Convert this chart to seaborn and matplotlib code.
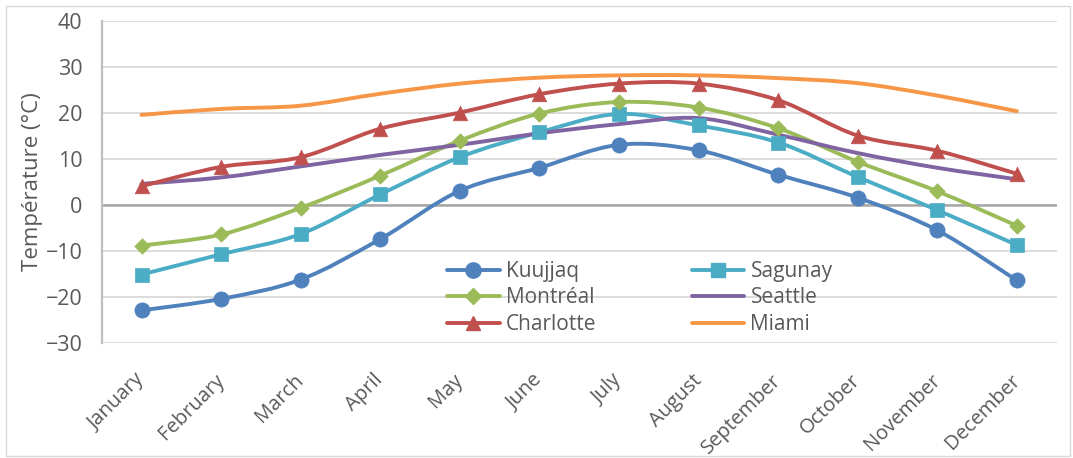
import numpy as np
import pandas as pd
import matplotlib
matplotlib.use("Agg")
import matplotlib.pyplot as plt
import seaborn as sns
from matplotlib.path import Path
from matplotlib.patches import PathPatch, Rectangle
from matplotlib.lines import Line2D

months = ["January", "February", "March", "April", "May", "June", "July",
          "August", "September", "October", "November", "December"]
kuujjaq = [-23.0, -20.5, -16.3, -7.5, 3.0, 8.0, 13.0, 11.8, 6.5, 1.5, -5.6, -16.5]
sagunay = [-15.2, -10.8, -6.4, 2.2, 10.3, 15.7, 19.7, 17.2, 13.5, 6.0, -1.2, -8.8]
montreal = [-8.9, -6.5, -0.7, 6.3, 13.9, 19.8, 22.3, 21.1, 16.6, 9.3, 2.9, -4.6]
seattle = [4.5, 5.9, 8.3, 10.8, 13.0, 15.5, 17.5, 18.8, 15.2, 11.2, 8.0, 5.5]
charlotte = [4.0, 8.2, 10.3, 16.5, 20.0, 24.0, 26.3, 26.3, 22.7, 15.0, 11.7, 6.7]
miami = [19.5, 20.8, 21.5, 24.1, 26.3, 27.6, 28.1, 28.1, 27.5, 26.4, 23.7, 20.3]

cities = ["Kuujjaq", "Sagunay", "Montréal", "Seattle", "Charlotte", "Miami"]
series = [kuujjaq, sagunay, montreal, seattle, charlotte, miami]
colors = {"Kuujjaq": "#4F81BD", "Sagunay": "#4BACC6", "Montréal": "#9BBB59",
          "Seattle": "#8064A2", "Charlotte": "#C0504D", "Miami": "#F79646"}
markers = {"Kuujjaq": "o", "Sagunay": "s", "Montréal": "D", "Seattle": None,
           "Charlotte": "^", "Miami": None}
msizes = {"Kuujjaq": 120, "Sagunay": 105, "Montréal": 62, "Charlotte": 110}

rows = []
for c, vals in zip(cities, series):
    for i, (m, v) in enumerate(zip(months, vals)):
        rows.append({"city": c, "idx": i, "month": m, "temp": v})
df = pd.DataFrame(rows)

sns.set_theme(style="white")
plt.rcParams["font.family"] = ["Open Sans", "DejaVu Sans"]
TXT = "#595959"

fig = plt.figure(figsize=(10.73, 4.58), dpi=100)
ax = fig.add_axes([0.0948, 0.252, 0.890, 0.703])


def smooth_path(x, y):
    pts = np.column_stack([x, y]).astype(float)
    n = len(pts)
    verts = [pts[0]]
    codes = [Path.MOVETO]
    for i in range(n - 1):
        p0 = pts[i - 1] if i > 0 else pts[i]
        p1 = pts[i]
        p2 = pts[i + 1]
        p3 = pts[i + 2] if i + 2 < n else pts[i + 1]
        c1 = p1 + (p2 - p0) / 6.0
        c2 = p2 - (p3 - p1) / 6.0
        verts += [c1, c2, p2]
        codes += [Path.CURVE4] * 3
    return Path(verts, codes)


for c in cities:
    sub = df[df.city == c]
    path = smooth_path(sub["idx"].values, sub["temp"].values)
    ax.add_patch(PathPatch(path, facecolor="none", edgecolor=colors[c], lw=2.8,
                           capstyle="round", joinstyle="round", zorder=3))
    if markers[c] is not None:
        sns.scatterplot(data=sub, x="idx", y="temp", color=colors[c],
                        marker=markers[c], s=msizes[c], edgecolor=colors[c],
                        linewidth=0.5, ax=ax, zorder=4, legend=False)

ax.set_xlim(-0.5, 11.5)
ax.set_ylim(-30, 40)
ax.set_yticks(np.arange(-30, 41, 10))
ax.set_xticks(range(len(months)))
ax.set_xticklabels(months, rotation=45, ha="right", va="center",
                   rotation_mode="anchor", color=TXT, fontsize=14.5)
ax.tick_params(axis="x", length=0, pad=25)
ax.tick_params(axis="y", length=0, pad=14, labelsize=15.5, labelcolor=TXT)
ax.set_xlabel("")
ax.set_ylabel("Température (°C)", fontsize=16, color=TXT, labelpad=2)

ax.grid(axis="y", color="#d9d9d9", lw=1.3, zorder=0)
ax.grid(axis="x", visible=False)
ax.axhline(0, color="#a6a6a6", lw=1.8, zorder=1)
for s in ["top", "right", "bottom"]:
    ax.spines[s].set_visible(False)
ax.spines["left"].set_color("#bfbfbf")
ax.spines["left"].set_linewidth(1.6)
ax.set_axisbelow(True)

handles = {}
for c in cities:
    mk = markers[c] if markers[c] is not None else "None"
    ms = {"o": 11, "s": 10.5, "D": 7.8, "^": 10.5}.get(mk, 0)
    handles[c] = Line2D([], [], color=colors[c], lw=2.8, marker=mk,
                        markersize=ms, markerfacecolor=colors[c],
                        markeredgecolor=colors[c])
order = ["Kuujjaq", "Montréal", "Charlotte", "Sagunay", "Seattle", "Miami"]
leg = ax.legend([handles[c] for c in order], order, ncol=2, frameon=False,
                loc="upper left", bbox_to_anchor=(0.417, 0.43),
                bbox_transform=fig.transFigure, fontsize=15, handlelength=2.5,
                handletextpad=0.3, labelspacing=0.26, columnspacing=4.6,
                borderpad=0, borderaxespad=0)
for t in leg.get_texts():
    t.set_color(TXT)

fig.add_artist(Rectangle((0.006, 0.004), 0.991, 0.982, transform=fig.transFigure,
                         fill=False, edgecolor="#d9d9d9", lw=1.0))

fig.savefig("out.png", dpi=100)
